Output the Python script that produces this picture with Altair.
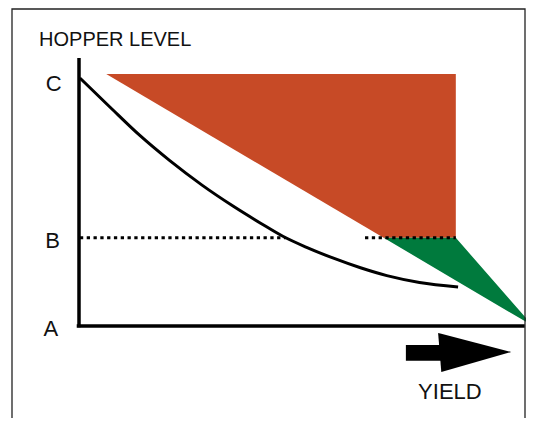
import altair as alt
import pandas as pd

# ---- data (yield 0..100 on x, hopper level 0..100 on y) ----
curve_x = [0.2, 6.8, 13.4, 20, 27.1, 34, 40, 44.9, 50, 55.9, 62, 67.8, 75, 83.5]
curve_y = [98.4, 86.9, 75.6, 65.6, 55.9, 47.5, 40.8, 35.6, 31.3, 27.0, 23.1, 20.0, 17.3, 15.5]

level_B = 35

red_x = [6, 67.1, 83]
red_top = [100, 100, 100]
red_bottom = [100, 35, 35]

green_x = [67.1, 83, 100]
green_top = [35, 35, 0]
green_bottom = [35, 18.1, 0]

dot_x1 = [0.2, 63]
dot_x2 = [45.5, 83]

axis_x1 = [0, -0.5]
axis_x2 = [0, 98.2]
axis_y1 = [-0.5, 0]
axis_y2 = [106.3, 0]

arrow_body_x = [72.0, 80.8]
arrow_body_y = [-7.5, -13.8]
head_x = [79.1, 79.8, 95.2]
head_top = [-2.8, -3.1, -10.3]
head_bottom = [-2.8, -18.3, -10.3]

level_labels = ["C", "B", "A"]
level_label_x = [-5.6, -5.8, -6.2]
level_label_y = [93.2, 31.0, -4.0]

title_text = "HOPPER LEVEL"
title_x, title_y = -8.8, 111.1
yield_text = "YIELD"
yield_x, yield_y = 81.7, -29.0

RED = "#C74A26"
GREEN = "#007A3D"
FONT = "Liberation Sans"

X = alt.Scale(domain=[0, 100], range=[71, 525], nice=False, zero=False)
Y = alt.Scale(domain=[0, 100], range=[318, 66], nice=False, zero=False)


def xe(f):
    return alt.X(f, type="quantitative", scale=X, axis=None)


def ye(f):
    return alt.Y(f, type="quantitative", scale=Y, axis=None)


red = alt.Chart(pd.DataFrame({"x": red_x, "t": red_top, "b": red_bottom})).mark_area(
    color=RED, opacity=1).encode(x=xe("x"), y=ye("t"), y2="b")

green = alt.Chart(pd.DataFrame({"x": green_x, "t": green_top, "b": green_bottom})).mark_area(
    color=GREEN, opacity=1).encode(x=xe("x"), y=ye("t"), y2="b")

dots = alt.Chart(pd.DataFrame({"x1": dot_x1, "x2": dot_x2, "y": [level_B] * 2})).mark_rule(
    color="black", strokeWidth=3, strokeDash=[3.3, 3.5]).encode(x=xe("x1"), x2="x2", y=ye("y"))

curve = alt.Chart(pd.DataFrame({"x": curve_x, "y": curve_y})).mark_line(
    color="black", strokeWidth=3, interpolate="monotone").encode(x=xe("x"), y=ye("y"))

axes = alt.Chart(pd.DataFrame({"x1": axis_x1, "x2": axis_x2, "y1": axis_y1, "y2": axis_y2})).mark_rule(
    color="black", strokeWidth=3.5).encode(x=xe("x1"), x2="x2", y=ye("y1"), y2="y2")

body = alt.Chart(pd.DataFrame({"x1": [arrow_body_x[0]], "x2": [arrow_body_x[1]],
                               "y1": [arrow_body_y[0]], "y2": [arrow_body_y[1]]})).mark_rect(
    color="black").encode(x=xe("x1"), x2="x2", y=ye("y1"), y2="y2")

head = alt.Chart(pd.DataFrame({"x": head_x, "t": head_top, "b": head_bottom})).mark_area(
    color="black", opacity=1).encode(x=xe("x"), y=ye("t"), y2="b")

lvl = alt.Chart(pd.DataFrame({"t": level_labels, "x": level_label_x, "y": level_label_y})).mark_text(
    font=FONT, fontSize=22, align="center", baseline="alphabetic", color="#111").encode(
    x=xe("x"), y=ye("y"), text="t:N")

ttl = alt.Chart(pd.DataFrame({"t": [title_text], "x": [title_x], "y": [title_y]})).mark_text(
    font=FONT, fontSize=20, align="left", baseline="alphabetic", color="#111").encode(
    x=xe("x"), y=ye("y"), text="t:N")

yld = alt.Chart(pd.DataFrame({"t": [yield_text], "x": [yield_x], "y": [yield_y]})).mark_text(
    font=FONT, fontSize=22, align="center", baseline="alphabetic", color="#111").encode(
    x=xe("x"), y=ye("y"), text="t:N")

frame = alt.Chart(pd.DataFrame({"a": [0]})).mark_rect(
    filled=False, stroke="#222", strokeWidth=1.3).encode(
    x=alt.value(4), x2=alt.value(517), y=alt.value(1), y2=alt.value(440))

chart = alt.layer(red, green, dots, curve, axes, body, head, lvl, ttl, yld, frame).properties(
    width=518, height=410, padding=0, background="white",
    autosize=alt.AutoSizeParams(type="none"),
).configure_view(stroke=None)

chart.save("out.html", embed_options={"renderer": "svg", "actions": False})
